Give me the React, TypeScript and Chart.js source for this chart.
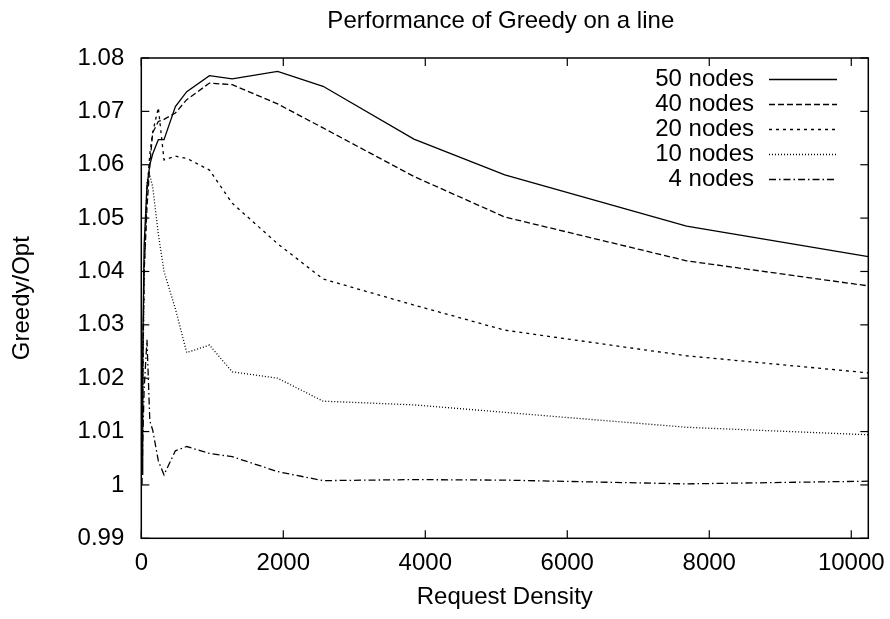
import React, { useEffect, useRef } from "react";
import { Chart, registerables } from "chart.js";

Chart.register(...registerables);

const chartTitle = "Performance of Greedy on a line";
const xAxisTitle = "Request Density";
const yAxisTitle = "Greedy/Opt";

const densities = [10, 20, 40, 80, 120, 160, 240, 320, 480, 640, 960, 1280, 1920, 2560, 3840, 5120, 7680, 10240];

const nodes50 = [1.002, 1.025, 1.045, 1.056, 1.06, 1.062, 1.0647, 1.0647, 1.0709, 1.0737, 1.0767, 1.0761, 1.0775, 1.0747, 1.0648, 1.0581, 1.0485, 1.0428];
const nodes40 = [1.002, 1.022, 1.04, 1.052, 1.06, 1.066, 1.0681, 1.0685, 1.0697, 1.0722, 1.0753, 1.075, 1.0714, 1.0669, 1.0578, 1.0502, 1.042, 1.0373];
const nodes20 = [1.003, 1.02, 1.04, 1.055, 1.062, 1.066, 1.0707, 1.0609, 1.0616, 1.0612, 1.059, 1.0528, 1.0452, 1.0386, 1.0337, 1.029, 1.0242, 1.021];
const nodes10 = [1.002, 1.015, 1.04, 1.057, 1.058, 1.0559, 1.047, 1.04, 1.033, 1.0248, 1.0262, 1.0212, 1.02, 1.0157, 1.015, 1.0136, 1.0108, 1.0094];
const nodes4 = [1.0, 1.008, 1.018, 1.0272, 1.012, 1.0103, 1.0045, 1.0019, 1.0064, 1.0072, 1.0059, 1.0053, 1.0025, 1.0008, 1.001, 1.0009, 1.0002, 1.0007];

const seriesLabels = ["50 nodes", "40 nodes", "20 nodes", "10 nodes", "4 nodes"];
const seriesValues = [nodes50, nodes40, nodes20, nodes10, nodes4];
const seriesDashes: number[][] = [[], [6, 3], [3, 4], [1, 2], [7, 3, 1.5, 3]];

const xTickValues = [0, 2000, 4000, 6000, 8000, 10000];
const yTickValues = [0.99, 1.0, 1.01, 1.02, 1.03, 1.04, 1.05, 1.06, 1.07, 1.08];
const xMin = 0;
const xMax = 10240;
const yMin = 0.99;
const yMax = 1.08;

const FONT = '"Liberation Sans", Arial, Helvetica, sans-serif';

const framePlugin = {
  id: "gnuframe",
  afterDatasetsDraw(chart: any) {
    const { ctx, chartArea: a, scales } = chart;
    const line = (x1: number, y1: number, x2: number, y2: number) => {
      ctx.beginPath();
      ctx.moveTo(x1, y1);
      ctx.lineTo(x2, y2);
      ctx.stroke();
    };
    ctx.save();
    ctx.strokeStyle = "#000";
    ctx.setLineDash([]);
    ctx.lineWidth = 1.5;
    ctx.strokeRect(a.left, a.top, a.right - a.left, a.bottom - a.top);
    ctx.lineWidth = 1.2;
    const tl = 8;
    scales.x.ticks.forEach((t: any) => {
      const px = scales.x.getPixelForValue(t.value);
      line(px, a.bottom, px, a.bottom - tl);
      line(px, a.top, px, a.top + tl);
    });
    scales.y.ticks.forEach((t: any) => {
      const py = scales.y.getPixelForValue(t.value);
      line(a.left, py, a.left + tl, py);
      line(a.right, py, a.right - tl, py);
    });

    // legend
    ctx.font = `24px ${FONT}`;
    ctx.fillStyle = "#000";
    ctx.textAlign = "right";
    ctx.textBaseline = "middle";
    chart.data.datasets.forEach((ds: any, i: number) => {
      const y = 79.5 + i * 25;
      ctx.fillText(ds.label, 754, y);
      ctx.lineWidth = 1.3;
      ctx.setLineDash(ds.borderDash || []);
      line(769, y, 837, y);
    });
    ctx.setLineDash([]);

    // titles
    ctx.textAlign = "center";
    ctx.textBaseline = "middle";
    ctx.fillText(chartTitle, (a.left + a.right) / 2 - 4, 21);
    ctx.fillText(xAxisTitle, (a.left + a.right) / 2, 597);
    ctx.save();
    ctx.translate(22, (a.top + a.bottom) / 2);
    ctx.rotate(-Math.PI / 2);
    ctx.fillText(yAxisTitle, 0, 0);
    ctx.restore();
    ctx.restore();
  },
};

export default function App() {
  const ref = useRef<HTMLCanvasElement | null>(null);
  useEffect(() => {
    if (!ref.current) return;
    const datasets = seriesLabels.map((label, i) => ({
      label,
      data: densities.map((d, j) => ({ x: d, y: seriesValues[i][j] })),
      borderColor: "#000",
      backgroundColor: "#000",
      borderWidth: 1.3,
      borderDash: seriesDashes[i],
      pointRadius: 0,
      tension: 0,
      fill: false,
    }));
    const chart = new Chart(ref.current, {
      type: "line",
      data: { datasets },
      plugins: [framePlugin],
      options: {
        animation: false,
        responsive: false,
        devicePixelRatio: 1,
        layout: { padding: { top: 58, right: 21.7, left: 0, bottom: 0 } },
        plugins: {
          legend: { display: false },
          title: { display: false },
          tooltip: { enabled: false },
        },
        scales: {
          x: {
            type: "linear",
            min: xMin,
            max: xMax,
            border: { display: false },
            grid: { display: false, drawTicks: false },
            afterBuildTicks: (s: any) => {
              s.ticks = xTickValues.map((v) => ({ value: v }));
            },
            ticks: {
              maxRotation: 0,
              autoSkip: false,
              padding: 11,
              color: "#000",
              font: { family: FONT, size: 24 },
              callback: (v: any) => String(v),
            },
            afterFit: (s: any) => {
              s.height = 80.7;
              s.paddingLeft = 0;
              s.paddingRight = 0;
            },
          },
          y: {
            type: "linear",
            min: yMin,
            max: yMax,
            border: { display: false },
            grid: { display: false, drawTicks: false },
            afterBuildTicks: (s: any) => {
              s.ticks = yTickValues.map((v) => ({ value: v }));
            },
            ticks: {
              autoSkip: false,
              padding: 17,
              color: "#000",
              font: { family: FONT, size: 24 },
              callback: (v: any) => String(Math.round(Number(v) * 100) / 100),
            },
            afterFit: (s: any) => {
              s.width = 141.3;
              s.paddingTop = 0;
              s.paddingBottom = 0;
            },
          },
        },
      } as any,
    });
    return () => chart.destroy();
  }, []);
  return (
    <div style={{ position: "fixed", left: 0, top: 0, width: 890, height: 619, background: "#fff" }}>
      <canvas ref={ref} width={890} height={619} style={{ width: 890, height: 619 }} />
    </div>
  );
}
